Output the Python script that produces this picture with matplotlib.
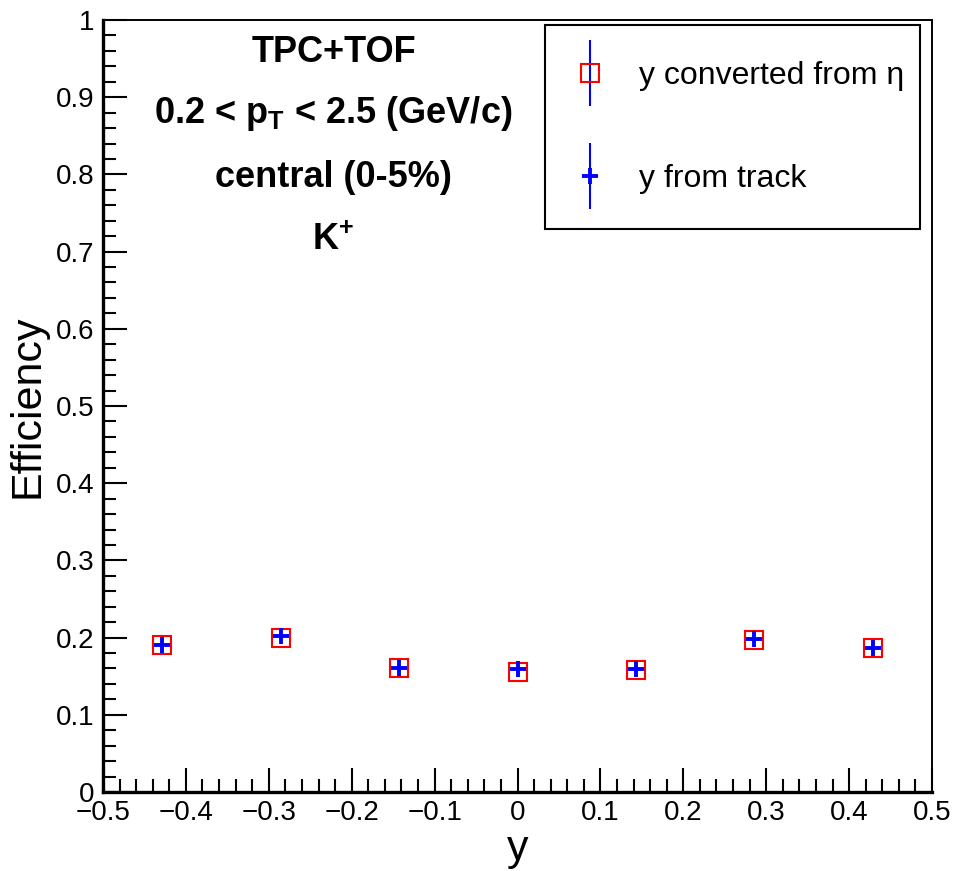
import matplotlib
matplotlib.use("Agg")
import matplotlib.pyplot as plt
from matplotlib.lines import Line2D
from matplotlib.patches import Rectangle
from matplotlib.legend_handler import HandlerTuple
from matplotlib.ticker import MultipleLocator

plt.rcParams['font.family'] = ['Liberation Sans', 'DejaVu Sans']
plt.rcParams['mathtext.fontset'] = 'custom'
plt.rcParams['mathtext.rm'] = 'Liberation Sans'
plt.rcParams['mathtext.bf'] = 'Liberation Sans:bold'
plt.rcParams['mathtext.it'] = 'Liberation Sans:italic'

# Data
y_bins = [-0.4286, -0.2857, -0.1429, 0.0, 0.1429, 0.2857, 0.4286]
eff_from_eta = [0.190, 0.200, 0.160, 0.155, 0.158, 0.1975, 0.1865]
eff_from_track = [0.191, 0.202, 0.160, 0.159, 0.159, 0.1976, 0.186]

label_eta = "y converted from \u03b7"
label_track = "y from track"
text_lines = ["TPC+TOF", r"0.2 < $\mathbf{p_{T}}$ < 2.5 (GeV/c)", "central (0-5%)", r"$\mathbf{K^{+}}$"]

fig = plt.figure(figsize=(9.55, 8.71), dpi=100)
ax = fig.add_axes([103/955, 79/871, 829/955, 772/871])

ax.plot(y_bins, eff_from_eta, linestyle='none', marker='s', markersize=13,
        markerfacecolor='none', markeredgecolor='red', markeredgewidth=1.5)
ax.plot(y_bins, eff_from_track, linestyle='none', marker='+', markersize=11,
        color='blue', markeredgewidth=2.8)

ax.set_xlim(-0.5, 0.5)
ax.set_ylim(0, 1)
ax.xaxis.set_major_locator(MultipleLocator(0.1))
ax.xaxis.set_minor_locator(MultipleLocator(0.02))
ax.yaxis.set_major_locator(MultipleLocator(0.1))
ax.yaxis.set_minor_locator(MultipleLocator(0.02))

def fmt(v, pos):
    if abs(v) < 1e-9:
        return "0"
    if abs(v - 1) < 1e-9:
        return "1"
    s = f"{v:.1f}"
    return s.replace("-", "\u2212")

ax.xaxis.set_major_formatter(plt.FuncFormatter(fmt))
ax.yaxis.set_major_formatter(plt.FuncFormatter(fmt))

ax.tick_params(which='both', direction='in', top=False, right=False, width=1.5, colors='black',
               labelsize=20)
ax.tick_params(which='major', length=17, pad=6)
ax.tick_params(which='minor', length=9.5)

for s in ['left', 'bottom']:
    ax.spines[s].set_linewidth(2.4)
for s in ['top', 'right']:
    ax.spines[s].set_linewidth(1.4)

ax.set_xlabel("y", fontsize=31, labelpad=2)
ax.set_ylabel("Efficiency", fontsize=31, labelpad=6)

ys = [0.958, 0.879, 0.796, 0.715]
for t, yy in zip(text_lines, ys):
    ax.text(0.278, yy, t, transform=ax.transAxes, ha='center', va='center',
            fontsize=26, fontweight='bold')

# Legend
frame = Rectangle((0.533, 0.7296), 0.453, 0.2639, transform=ax.transAxes,
                  facecolor='white', edgecolor='black', linewidth=1.5, zorder=4)
ax.add_patch(frame)

vline = Line2D([], [], linestyle='none', marker='|', markersize=48, color='blue',
               markeredgewidth=1.5)
sq = Line2D([], [], linestyle='none', marker='s', markersize=13,
            markerfacecolor='none', markeredgecolor='red', markeredgewidth=1.5)
pl = Line2D([], [], linestyle='none', marker='+', markersize=11, color='blue',
            markeredgewidth=2.8)
leg = ax.legend([(vline, sq), (vline, pl)], [label_eta, label_track],
                handler_map={tuple: HandlerTuple(ndivide=1)},
                loc='center left', bbox_to_anchor=(0.568, 0.8605),
                frameon=False, fontsize=23, handlelength=1.0, handletextpad=1.05,
                labelspacing=2.3, borderpad=0, borderaxespad=0)
leg.set_zorder(5)

fig.savefig("out.png", dpi=100)
